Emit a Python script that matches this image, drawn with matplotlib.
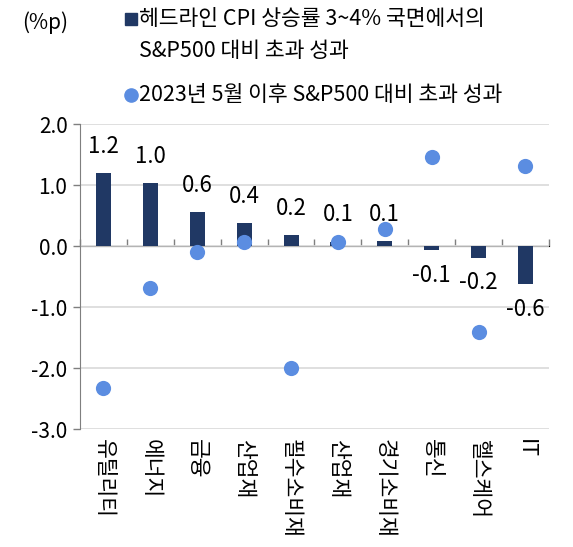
import matplotlib
matplotlib.use("Agg")
import matplotlib.pyplot as plt
import numpy as np
from matplotlib.lines import Line2D

plt.rcParams['font.family'] = ['Noto Sans CJK KR', 'DejaVu Sans']
plt.rcParams['font.weight'] = 'light'

# Data
sectors = ["유틸리티", "에너지", "금융", "산업재", "필수소비재", "산업재", "경기소비재", "통신", "헬스케어", "IT"]
cpi_excess = [1.19, 1.03, 0.55, 0.37, 0.18, 0.07, 0.08, -0.07, -0.19, -0.62]
cpi_labels = ["1.2", "1.0", "0.6", "0.4", "0.2", "0.1", "0.1", "-0.1", "-0.2", "-0.6"]
since_2023 = [-2.32, -0.69, -0.10, 0.07, -2.0, 0.07, 0.28, 1.46, -1.41, 1.31]
y_ticks = [-3.0, -2.0, -1.0, 0.0, 1.0, 2.0]
legend_labels = ["헤드라인 CPI 상승률 3~4% 국면에서의\nS&P500 대비 초과 성과",
                 "2023년 5월 이후 S&P500 대비 초과 성과"]

BAR_COLOR = "#203864"
DOT_COLOR = "#5B8DE1"
AXIS_GRAY = "#7f7f7f"

fig = plt.figure(figsize=(5.73, 5.47), dpi=100)
ax = fig.add_axes([0.1396, 0.2157, 0.8184, 0.5576])

x = np.arange(len(sectors))
ax.bar(x, cpi_excess, width=0.32, color=BAR_COLOR, zorder=2)
ax.scatter(x, since_2023, s=120, color=DOT_COLOR, zorder=3, linewidths=0)

for xi, v, lab in zip(x, cpi_excess, cpi_labels):
    if v >= 0:
        ax.annotate(lab, (xi, v), xytext=(0, 11), textcoords="offset points",
                    ha="center", va="bottom", fontsize=16)
    else:
        ax.annotate(lab, (xi, v), xytext=(0, -10), textcoords="offset points",
                    ha="center", va="top", fontsize=16)

ax.set_xlim(-0.5, len(sectors) - 0.5)
ax.set_ylim(-3, 2)
ax.set_yticks(y_ticks)
ax.set_yticklabels([f"{t:.1f}" for t in y_ticks], fontsize=15)
ax.yaxis.grid(True, color="#d9d9d9", linewidth=1.2, zorder=0)
ax.set_axisbelow(True)

ax.set_xticks(x)
ax.set_xticklabels(sectors, rotation=-90, fontsize=15.5, va="top")
ax.tick_params(axis="x", length=0, pad=7)
ax.tick_params(axis="y", length=5, color=AXIS_GRAY, width=1, pad=4)

for side in ["top", "right", "bottom"]:
    ax.spines[side].set_visible(False)
ax.spines["left"].set_color(AXIS_GRAY)

# zero line with category boundary ticks
zero_pos = (0 - (-3)) / 5
sec = ax.secondary_xaxis(zero_pos)
sec.set_xticks(np.arange(len(sectors) + 1) - 0.5)
sec.set_xticklabels([])
sec.tick_params(axis="x", direction="out", length=5, color=AXIS_GRAY, width=1)
sec.spines["bottom"].set_color(AXIS_GRAY)
sec.spines["bottom"].set_linewidth(1.2)

# legend / unit
fig.text(0.038, 0.958, "(%p)", fontsize=15, va="center", ha="left")
fig.add_artist(Line2D([0.229], [1 - 19 / 547], marker="s", linestyle="", color=BAR_COLOR,
                      markersize=8, transform=fig.transFigure))
fig.text(0.243, 1 - 19 / 547, legend_labels[0].split("\n")[0], fontsize=15.5, va="center", ha="left")
fig.text(0.243, 1 - 51 / 547, legend_labels[0].split("\n")[1], fontsize=15.5, va="center", ha="left")
fig.add_artist(Line2D([0.229], [1 - 95 / 547], marker="o", linestyle="", color=DOT_COLOR,
                      markersize=9.5, transform=fig.transFigure))
fig.text(0.243, 1 - 95 / 547, legend_labels[1], fontsize=15.5, va="center", ha="left")

fig.savefig("out.png", dpi=100)
